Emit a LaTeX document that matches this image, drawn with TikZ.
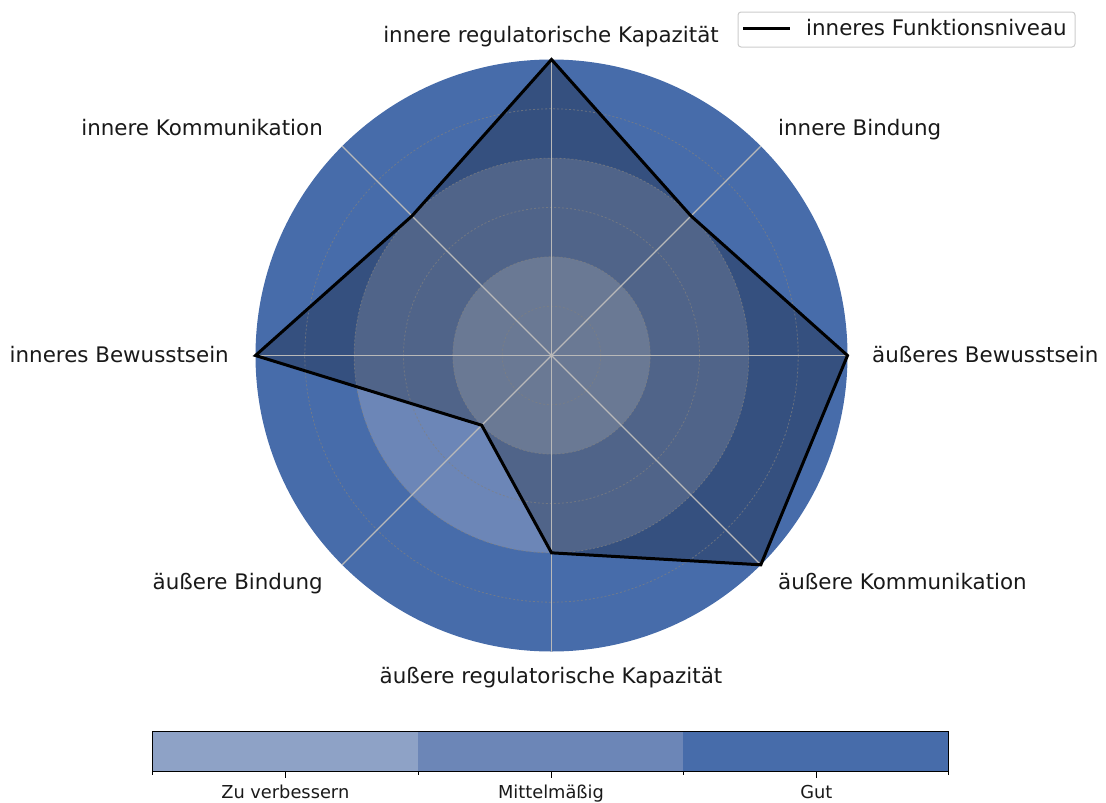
\documentclass[tikz,border=0pt]{standalone}
\usepackage{fontspec}
\setmainfont{DejaVu Sans}
\usetikzlibrary{calc}
\definecolor{zuv}{RGB}{142,162,198}
\definecolor{mit}{RGB}{108,134,183}
\definecolor{gut}{RGB}{71,108,170}
\definecolor{spokecol}{RGB}{185,185,185}
\definecolor{gridcol}{RGB}{128,128,128}
\tikzset{
 lbl/.style={inner sep=0pt, font=\fontsize{21.4}{25}\selectfont, text=black!90},
 cblbl/.style={inner sep=0pt, font=\fontsize{17.8}{21}\selectfont, anchor=base, text=black!90},
 spoke/.style={draw=spokecol, line width=1.3pt},
 gridc/.style={draw=gridcol, draw opacity=0.7, line width=0.8pt, dash pattern=on 2pt off 2pt},
 levelline/.style={draw=black, line width=3pt, line join=miter},
 legendbox/.style={draw=black!20, line width=1pt, rounded corners=3pt, fill=white, inner sep=0pt},
 cbframe/.style={draw=black, line width=1pt},
 cbtick/.style={draw=black, line width=1pt},
}
\begin{document}
\begin{tikzpicture}[x=1pt,y=-1pt]
\useasboundingbox (0,0) rectangle (1106,803);
\coordinate (C) at (551.5,355.5);
% rings
\fill[gut] (C) circle[radius=296pt];
\fill[mit] (C) circle[radius=197.33pt];
\fill[zuv] (C) circle[radius=98.67pt];
% polygon vertices and spoke ends
\foreach \a/\v [count=\i] in {90/3,45/2,0/3,-45/3,-90/2,-135/1,180/3,135/2}{
  \pgfmathsetmacro\rr{\v*98.667}
  \coordinate (p\i) at ($(C)+(\a:\rr pt)$);
  \coordinate (s\i) at ($(C)+(\a:296pt)$);
}
\fill[black, opacity=0.25] (p1)--(p2)--(p3)--(p4)--(p5)--(p6)--(p7)--(p8)--cycle;
% grid circles
\foreach \r in {49.33,98.67,148,197.33,246.67}{
  \draw[gridc] (C) circle[radius=\r pt];
}
% spokes
\foreach \i in {1,...,8}{
  \draw[spoke] (C) -- (s\i);
}
% level outline
\draw[levelline] (p1)--(p2)--(p3)--(p4)--(p5)--(p6)--(p7)--(p8)--cycle;
% axis labels
\node[lbl, anchor=base] (l1) at (551,42) {innere regulatorische Kapazität};
\node[lbl, anchor=base west] (l2) at (778,135) {innere Bindung};
\node[lbl, anchor=base west] (l3) at (872,362) {äußeres Bewusstsein};
\node[lbl, anchor=base west] (l4) at (778,589) {äußere Kommunikation};
\node[lbl, anchor=base] (l5) at (551,683) {äußere regulatorische Kapazität};
\node[lbl, anchor=base east] (l6) at (323,589) {äußere Bindung};
\node[lbl, anchor=base east] (l7) at (229,362) {inneres Bewusstsein};
\node[lbl, anchor=base east] (l8) at (323,135) {innere Kommunikation};
% legend
\node[legendbox, minimum width=337pt, minimum height=35pt] (legend) at (906.5,29.5) {};
\coordinate (lgA) at (743,28.5);
\coordinate (lgB) at (790,28.5);
\draw[black, line width=3pt] (lgA) -- (lgB);
\node[lbl, anchor=base west] (lgtext) at (806,35.5) {inneres Funktionsniveau};
% colorbar
\fill[zuv] (152.7,731.7) rectangle (418,771.7);
\fill[mit] (418,731.7) rectangle (683.3,771.7);
\fill[gut] (683.3,731.7) rectangle (948.7,771.7);
\node[cbframe, inner sep=0pt, minimum width=796pt, minimum height=40pt] (cbar) at (550.7,751.7) {};
\foreach \x in {152.7,418,683.3,948.7}{
  \draw[cbtick] (\x,771.7) -- (\x,775.2);
}
\foreach \x/\t [count=\k] in {285.3/Zu verbessern,551/Mittelmäßig,816.3/Gut}{
  \draw[cbtick] (\x,771.7) -- (\x,778.2);
  \node[cblbl] (cb\k) at (\x,798) {\t};
}
\end{tikzpicture}
\end{document}
